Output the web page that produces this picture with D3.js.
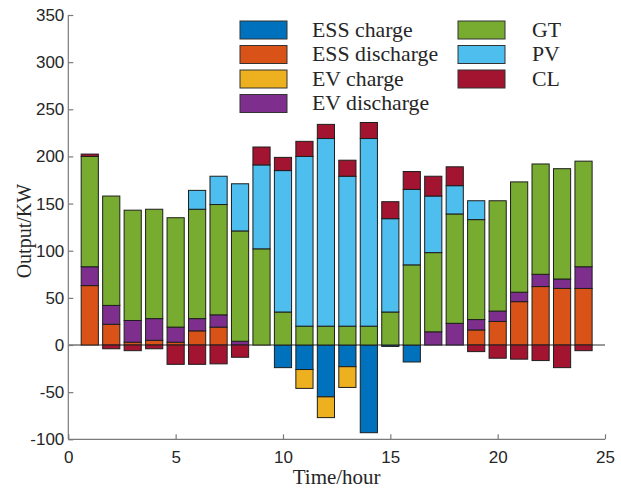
<!DOCTYPE html>
<html>
<head>
<meta charset="utf-8">
<script src="https://cdn.jsdelivr.net/npm/d3@7"></script>
<style>
  html, body { margin: 0; padding: 0; background: #fff; }
  svg { display: block; }
</style>
</head>
<body>
<svg id="chart" width="621" height="489"></svg>
<script>
// Hourly power balance (kW), 24 hours, stacked by source / sink
const hours = d3.range(1, 25);

const essCharge    = [0, 0, 0, 0, 0, 0, 0, 0, 0, -24, -26, -55, -23, -93, -1.5, -18, 0, 0, 0, 0, 0, 0, 0, 0];
const essDischarge = [63, 22, 3, 5, 3, 15, 19, 0, 0, 0, 0, 0, 0, 0, 0, 0, 0, 0, 16, 25, 46, 62, 60, 60];
const evCharge     = [0, 0, 0, 0, 0, 0, 0, 0, 0, 0, -20, -22, -22, 0, 0, 0, 0, 0, 0, 0, 0, 0, 0, 0];
const evDischarge  = [20, 20, 23, 23, 16, 13, 13, 4, 0, 0, 0, 0, 0, 0, 0, 0, 14, 23, 11, 11, 10, 13, 10, 23];
const gt           = [117, 116, 117, 116, 116, 116, 117, 117, 102, 35, 20, 20, 20, 20, 35, 85, 84, 116, 106, 117, 117, 117, 117, 112];
const pv           = [0, 0, 0, 0, 0, 20, 30, 50, 89, 150, 180, 199, 159, 199, 99, 80, 60, 30, 20, 0, 0, 0, 0, 0];
const cl           = [2.5, -4, -6, -4, -20.5, -20.5, -20, -13, 19, 14, 16, 15, 17, 17, 18, 19, 21, 20, -7, -14, -15, -16.5, -24, -6];

const seriesNames  = ["ESS charge", "ESS discharge", "EV charge", "EV discharge", "GT", "PV", "CL"];
const seriesValues = [essCharge, essDischarge, evCharge, evDischarge, gt, pv, cl];
const seriesColors = ["#0072BD", "#D95319", "#EDB120", "#7E2F8E", "#77AC30", "#4DBEEE", "#A2142F"];

const xTicks = [0, 5, 10, 15, 20, 25];
const yTicks = [-100, -50, 0, 50, 100, 150, 200, 250, 300, 350];

const svg = d3.select("#chart");
const plotLeft = 68.3, plotRight = 605, plotTop = 15, plotBottom = 439.3;

const x = d3.scaleLinear().domain([0, 25]).range([plotLeft, plotRight]);
const y = d3.scaleLinear().domain([-100, 350]).range([plotBottom, plotTop]);
const barW = x(0.8) - x(0);

// Stack positives upward and negatives downward, in series order
const segments = [];
hours.forEach((h, i) => {
  let pos = 0, neg = 0;
  seriesValues.forEach((vals, s) => {
    const v = vals[i];
    if (v === 0) return;
    let y0, y1;
    if (v > 0) { y0 = pos; y1 = pos + v; pos = y1; }
    else { y0 = neg; y1 = neg + v; neg = y1; }
    segments.push({ hour: h, s, y0, y1 });
  });
});

// zero baseline
svg.append("line")
  .attr("x1", x(0)).attr("x2", x(25))
  .attr("y1", y(0)).attr("y2", y(0))
  .attr("stroke", "#333").attr("stroke-width", 1);

svg.append("g").selectAll("rect")
  .data(segments)
  .join("rect")
  .attr("x", d => x(d.hour) - barW / 2)
  .attr("width", barW)
  .attr("y", d => y(Math.max(d.y0, d.y1)))
  .attr("height", d => Math.abs(y(d.y0) - y(d.y1)))
  .attr("fill", d => seriesColors[d.s])
  .attr("stroke", "#1e1e1e")
  .attr("stroke-width", 1);

// Axes (ticks pointing inward), plain hyphen for negatives
const axisColor = "#7a7a7a";
const fmt = d => String(d);
const xAxis = d3.axisBottom(x).tickValues(xTicks).tickSize(-5).tickPadding(12).tickFormat(fmt);
const yAxis = d3.axisLeft(y).tickValues(yTicks).tickSize(-5).tickPadding(4).tickFormat(fmt);

const gx = svg.append("g").attr("transform", `translate(0,${plotBottom})`).call(xAxis);
const gy = svg.append("g").attr("transform", `translate(${plotLeft},0)`).call(yAxis);
[gx, gy].forEach(g => {
  g.select(".domain").attr("stroke", axisColor).attr("stroke-width", 1.2);
  g.selectAll(".tick line").attr("stroke", axisColor).attr("stroke-width", 1.2);
  g.selectAll(".tick text")
    .attr("fill", "#262626")
    .style("font-family", "'Liberation Sans', Arial, sans-serif")
    .style("font-size", "17px");
});
gx.select(".domain").attr("d", `M${plotLeft},0H${plotRight}`);
gy.select(".domain").attr("d", `M0,${plotBottom}V${plotTop}`);

const serif = "'Liberation Serif', 'Times New Roman', serif";

// Axis titles
svg.append("text")
  .attr("transform", `translate(${(plotLeft + plotRight) / 2},484) scale(1.05,1)`)
  .attr("text-anchor", "middle")
  .style("font-family", serif)
  .style("font-size", "20px").attr("fill", "#262626")
  .text("Time/hour");

svg.append("text")
  .attr("transform", `translate(31,${(plotTop + plotBottom) / 2 + 4}) rotate(-90)`)
  .attr("text-anchor", "middle")
  .style("font-family", serif)
  .style("font-size", "20px").attr("fill", "#262626")
  .text("Output/KW");

// Legend: two columns
const legendItems = seriesNames.map((name, i) => ({
  name, color: seriesColors[i],
  col: i < 4 ? 0 : 1,
  row: i < 4 ? i : i - 4
}));
const colX = [240, 458];
const textX = [312, 532];
const rowY = [30, 54.5, 79, 103.5];

const lg = svg.append("g");
lg.selectAll("rect")
  .data(legendItems)
  .join("rect")
  .attr("x", d => colX[d.col])
  .attr("y", d => rowY[d.row] - 9)
  .attr("width", 47).attr("height", 18)
  .attr("fill", d => d.color)
  .attr("stroke", "#333").attr("stroke-width", 1);
lg.selectAll("text")
  .data(legendItems)
  .join("text")
  .attr("transform", d => `translate(${textX[d.col]},${rowY[d.row] + 6.5}) scale(1.09,1)`)
  .style("font-family", serif)
  .style("font-size", "20px").attr("fill", "#262626")
  .text(d => d.name);
</script>
</body>
</html>
